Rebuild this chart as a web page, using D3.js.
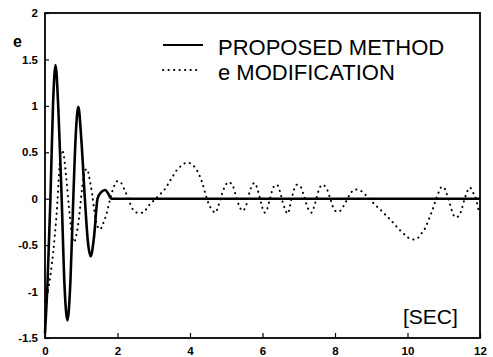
<!DOCTYPE html>
<html>
<head>
<meta charset="utf-8">
<script src="https://cdn.jsdelivr.net/npm/d3@7"></script>
<style>
  body { margin: 0; background: #fff; }
  svg { display: block; }
  text { font-family: "Liberation Sans", Arial, sans-serif; fill: #000; }
</style>
</head>
<body>
<div id="chart"></div>
<script>
// Proposed method: time [sec] and error e
const solidT = [0, 0.07, 0.15, 0.22, 0.29, 0.37, 0.46, 0.54, 0.62, 0.70, 0.78, 0.85, 0.92, 1.00, 1.10,
  1.18, 1.26, 1.35, 1.45, 1.55, 1.66, 1.75, 1.83, 2.0, 4, 6, 8, 10, 12];
const solidE = [-1.45, -0.9, 0, 1.0, 1.44, 0.95, 0, -0.95, -1.31, -0.9, 0, 0.7, 0.99, 0.65, 0,
  -0.45, -0.62, -0.42, 0, 0.07, 0.094, 0.05, 0, 0, 0, 0, 0, 0, 0];

// e modification: time [sec] and error e
const dottedT = [0, 0.1, 0.19, 0.27, 0.34, 0.4, 0.45, 0.5, 0.58, 0.66, 0.74, 0.8, 0.88, 0.94, 1.02,
  1.1, 1.16, 1.22, 1.3, 1.38, 1.45, 1.52, 1.6, 1.7, 1.8, 1.9, 2.0, 2.1, 2.2, 2.3, 2.4, 2.55, 2.7,
  2.85, 3.0, 3.18, 3.3, 3.46, 3.64, 3.78, 3.92, 4.05, 4.2, 4.33, 4.42, 4.51, 4.61, 4.7, 4.78, 4.84,
  4.95, 5.06, 5.19, 5.26, 5.35, 5.45, 5.56, 5.65, 5.78, 5.9, 5.99, 6.06, 6.13, 6.2, 6.31, 6.4, 6.48,
  6.56, 6.7, 6.8, 6.94, 7.05, 7.15, 7.25, 7.35, 7.45, 7.55, 7.65, 7.77, 7.87, 8.0, 8.1, 8.25, 8.4,
  8.55, 8.69, 8.82, 8.97, 9.17, 9.31, 9.43, 9.54, 9.65, 9.77, 9.88, 10.02, 10.17, 10.32, 10.41,
  10.51, 10.57, 10.63, 10.69, 10.75, 10.85, 10.95, 11.04, 11.1, 11.18, 11.24, 11.33, 11.43, 11.49,
  11.57, 11.64, 11.72, 11.82, 11.89, 11.96, 12];
const dottedE = [-1.1, -0.95, -0.7, -0.4, -0.05, 0.35, 0.52, 0.5, 0.25, -0.09, -0.38, -0.47, -0.36,
  -0.2, 0.1, 0.3, 0.32, 0.23, 0.05, -0.18, -0.3, -0.33, -0.27, -0.16, 0, 0.13, 0.19, 0.17, 0.09, 0,
  -0.1, -0.15, -0.15, -0.08, -0.02, 0.05, 0.1, 0.2, 0.31, 0.36, 0.39, 0.37, 0.3, 0.18, 0.06, -0.05,
  -0.12, -0.15, -0.08, 0, 0.12, 0.18, 0.13, 0.04, -0.07, -0.13, -0.06, 0.08, 0.17, 0.05, -0.09,
  -0.15, -0.11, -0.01, 0.13, 0.15, 0.08, -0.04, -0.16, 0, 0.15, 0.13, 0.02, -0.1, -0.15, -0.05,
  0.09, 0.15, 0.11, 0, -0.13, -0.14, -0.07, 0.04, 0.1, 0.09, 0.05, -0.01, -0.09, -0.14, -0.19,
  -0.23, -0.28, -0.33, -0.37, -0.42, -0.44, -0.41, -0.36, -0.3, -0.24, -0.18, -0.12, -0.05, 0.06,
  0.13, 0.1, 0.03, -0.07, -0.15, -0.2, -0.18, -0.12, -0.01, 0.07, 0.12, 0.06, 0, -0.12, -0.16];

const xTicks = [0, 2, 4, 6, 8, 10, 12];
const yTicks = [-1.5, -1, -0.5, 0, 0.5, 1, 1.5, 2];
const legendLabels = ["PROPOSED METHOD", "e MODIFICATION"];

const width = 493, height = 357;
const margin = { top: 13, right: 13, bottom: 19, left: 45 };

const svg = d3.select("#chart").append("svg")
  .attr("width", width)
  .attr("height", height);

const x = d3.scaleLinear().domain([0, 12]).range([margin.left, width - margin.right]);
const y = d3.scaleLinear().domain([-1.5, 2]).range([height - margin.bottom, margin.top]);

// plot frame
svg.append("rect")
  .attr("x", x(0)).attr("y", y(2))
  .attr("width", x(12) - x(0)).attr("height", y(-1.5) - y(2))
  .attr("fill", "none").attr("stroke", "#000").attr("stroke-width", 1.8);

// axes with inward ticks
const fmt = d => d3.format("")(d).replace("−", "-");
const xAxis = svg.append("g")
  .attr("transform", `translate(0,${y(-1.5)})`)
  .call(d3.axisBottom(x).tickValues(xTicks).tickSizeInner(-5).tickSizeOuter(0).tickPadding(9).tickFormat(fmt));
const yAxis = svg.append("g")
  .attr("transform", `translate(${x(0)},0)`)
  .call(d3.axisLeft(y).tickValues(yTicks).tickSizeInner(-4).tickSizeOuter(0).tickPadding(7).tickFormat(fmt));

[xAxis, yAxis].forEach(a => {
  a.select(".domain").remove();
  a.selectAll("line").attr("stroke", "#000").attr("stroke-width", 1.2);
  a.selectAll("text")
    .attr("font-family", "'Liberation Sans', Arial, sans-serif")
    .attr("font-size", 11.5)
    .attr("font-weight", "bold");
});

// curves
const line = (ts, es) => d3.line()
  .x((d, i) => x(ts[i]))
  .y(d => y(d))
  .curve(d3.curveMonotoneX)(es);

svg.append("path")
  .attr("d", line(dottedT, dottedE))
  .attr("fill", "none")
  .attr("stroke", "#000")
  .attr("stroke-width", 2)
  .attr("stroke-linecap", "round")
  .attr("stroke-dasharray", "0.3,5.2");

svg.append("path")
  .attr("d", line(solidT, solidE))
  .attr("fill", "none")
  .attr("stroke", "#000")
  .attr("stroke-width", 2.6)
  .attr("stroke-linejoin", "round");

// legend
const legend = svg.append("g");
legend.append("line")
  .attr("x1", 163).attr("x2", 203).attr("y1", 45).attr("y2", 45)
  .attr("stroke", "#000").attr("stroke-width", 1.8);
legend.append("line")
  .attr("x1", 163).attr("x2", 200).attr("y1", 70).attr("y2", 70)
  .attr("stroke", "#000").attr("stroke-width", 2)
  .attr("stroke-linecap", "round").attr("stroke-dasharray", "0.3,5.2");
legend.selectAll("text.lab")
  .data(legendLabels)
  .enter().append("text")
  .attr("class", "lab")
  .attr("x", 218)
  .attr("y", (d, i) => 55 + i * 25)
  .attr("font-size", 22)
  .text(d => d);

// axis labels
svg.append("text")
  .attr("x", 13).attr("y", 47)
  .attr("font-size", 16).attr("font-weight", "bold")
  .text("e");
svg.append("text")
  .attr("x", 403).attr("y", 324)
  .attr("font-size", 21)
  .text("[SEC]");
</script>
</body>
</html>
